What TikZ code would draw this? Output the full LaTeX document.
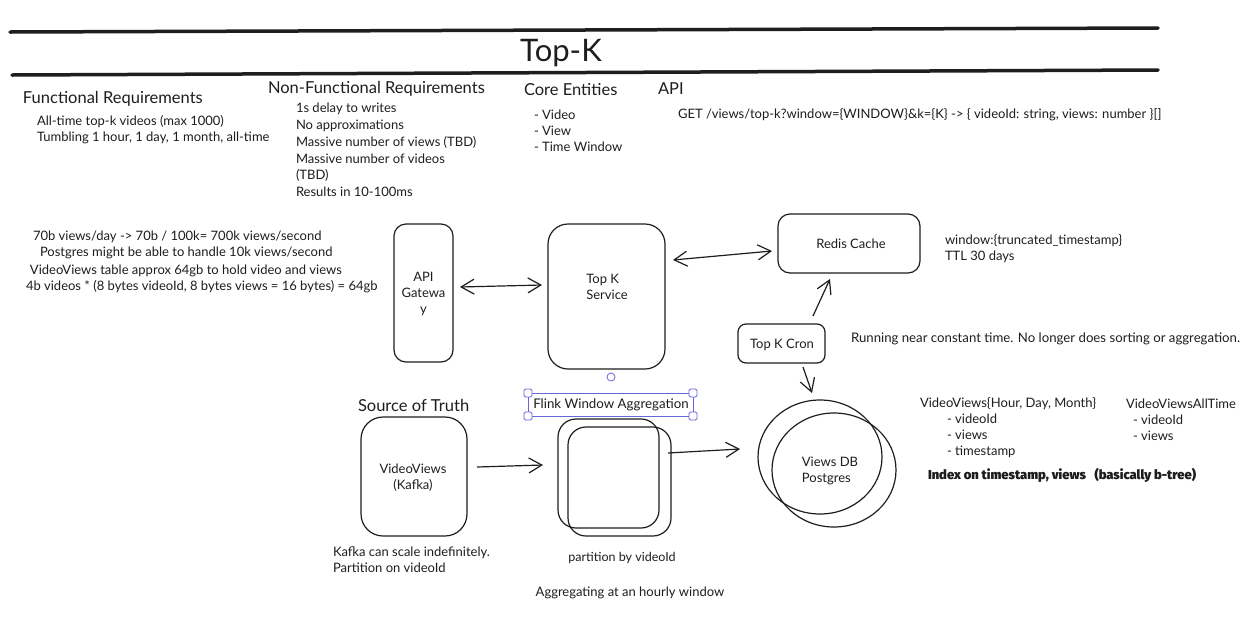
\documentclass[tikz,border=0pt]{standalone}
\usepackage{fontspec}
\setmainfont{Lato}
\newfontfamily\heavyfont{Fira Sans Black}
\usetikzlibrary{arrows.meta,shapes.geometric}
\definecolor{ink}{HTML}{1E1E1E}
\definecolor{sel}{HTML}{6965DB}
\begin{document}
\begin{tikzpicture}[x=1pt,y=-1pt,
  every node/.style={text=ink, inner sep=0pt, outer sep=0pt},
  box/.style={draw=ink, line width=1.2pt, rounded corners=#1},
  box/.default=12pt,
  boxtext/.style={font=\fontsize{13}{16}\selectfont, align=center},
  body/.style={font=\fontsize{13}{16}\selectfont, anchor=west, align=left},
  head/.style={font=\fontsize{16.5}{19}\selectfont, anchor=west},
  tipb/.tip={Straight Barb[length=13pt,width=15pt,line width=1.2pt]},
  arr/.style={draw=ink, line width=1.2pt, -tipb},
  darr/.style={draw=ink, line width=1.2pt, tipb-tipb},
  rulestroke/.style={draw=ink, line width=3.5pt, line cap=round},
  selbox/.style={draw=sel, line width=0.8pt},
  handle/.style={draw=sel, fill=white, line width=0.8pt, rounded corners=1.5pt},
]
\useasboundingbox (0,0) rectangle (1251,622);
\fill[white] (0,0) rectangle (1251,622);

% header rules and title
\coordinate (r1a) at (10,32); \coordinate (r1b) at (1158,28);
\coordinate (r2a) at (12,75); \coordinate (r2b) at (1158,70);
\draw[rulestroke] (r1a) -- (r1b);
\draw[rulestroke] (r2a) -- (r2b);
\node[font=\fontsize{31}{34}\selectfont] (title) at (561,53) {Top-K};

% requirement sections
\node[head] (frH) at (23,99) {Functional Requirements};
\node[body] (frB) at (37,130) {All-time top-k videos (max 1000)\\Tumbling 1 hour, 1 day, 1 month, all-time};
\node[head] (nfrH) at (268,89) {Non-Functional Requirements};
\node[body, font=\fontsize{13}{16.8}\selectfont] (nfrB) at (296,150) {1s delay to writes\\No approximations\\Massive number of views (TBD)\\Massive number of videos\\(TBD)\\Results in 10-100ms};
\node[head] (ceH) at (524,90) {Core Entities};
\node[body] (ceB) at (534,131) {- Video\\- View\\- Time Window};
\node[head] (apiH) at (658,89) {API};
\node[body] (apiB) at (678,115) {GET /views/top-k?window=\{WINDOW\}\&k=\{K\} -> \{ videoId: string, views: number \}[]};

% estimates
\node[body] (e1) at (33,237) {70b views/day -> 70b / 100k= 700k views/second};
\node[body] (e2) at (40,253) {Postgres might be able to handle 10k views/second};
\node[body] (e3) at (30,271) {VideoViews table approx 64gb to hold video and views};
\node[body] (e4) at (26,287) {4b videos * (8 bytes videoId, 8 bytes views = 16 bytes) = 64gb};

% main boxes
\node[box, minimum width=59pt, minimum height=138pt] (api) at (423.5,293) {};
\node[boxtext] (apiT) at (423.5,294) {API\\Gatewa\\y};
\node[box=20pt, minimum width=117pt, minimum height=145pt] (topk) at (606.5,296.5) {};
\node[boxtext, align=left] (topkT) at (607,287) {Top K\\Service};
\node[box, minimum width=142pt, minimum height=59pt] (redis) at (849,243.5) {};
\node[boxtext] (redisT) at (851,243.5) {Redis Cache};
\node[box=8pt, minimum width=87pt, minimum height=39pt] (cron) at (781.5,343.5) {};
\node[boxtext] (cronT) at (782,344.5) {Top K Cron};

\node[body] (w1) at (945,249) {window:\{truncated\_timestamp\}\\TTL 30 days};
\node[body, font=\fontsize{13.2}{16}\selectfont] (run) at (851,339) {Running near constant time. No longer does sorting or aggregation.};

% source of truth / flink
\node[head] (sotH) at (358,405) {Source of Truth};
\node[box=22pt, minimum width=106pt, minimum height=119pt] (kafka) at (414,476.5) {};
\node[boxtext] (kafkaT) at (413,477.5) {VideoViews\\(Kafka)};
\node[body] (kafkaN) at (333,560) {Kafka can scale indefinitely.\\Partition on videoId};

\node[box=18pt, minimum width=101pt, minimum height=109pt] (flinkA) at (608.5,473.5) {};
\node[box=18pt, minimum width=103pt, minimum height=109pt] (flinkB) at (619.5,481.5) {};
\draw[selbox] (528,393) rectangle (693,416);
\foreach \hx/\hy in {528/393,693/393,528/416,693/416}
  \draw[handle] (\hx-4,\hy-4) rectangle (\hx+4,\hy+4);
\draw[selbox] (611,377) circle (4pt);
\node[font=\fontsize{13.3}{16}\selectfont] (flinkT) at (611,405) {Flink Window Aggregation};
\node[font=\fontsize{12.5}{16}\selectfont] (part) at (622,558) {partition by videoId};
\node[font=\fontsize{13}{16}\selectfont] (aggr) at (630,593) {Aggregating at an hourly window};

% database
\node[draw=ink, line width=1.2pt, ellipse, minimum width=124pt, minimum height=114pt] (db1) at (820,457) {};
\node[draw=ink, line width=1.2pt, ellipse, minimum width=124pt, minimum height=114pt] (db2) at (834,470) {};
\node[boxtext, align=left] (dbT) at (830,470.5) {Views DB\\Postgres};

\node[body] (vvH) at (920,404) {VideoViews\{Hour, Day, Month\}};
\node[body] (vvB) at (947,436) {- videoId\\- views\\- timestamp};
\node[body] (atH) at (1126,404) {VideoViewsAllTime};
\node[body] (atB) at (1133,428) {- videoId\\- views};
\node[body, font=\heavyfont\fontsize{13}{15}\selectfont] (idx) at (928,475) {Index on timestamp, views\ \ \ (basically b-tree)};

% connectors
\coordinate (p1) at (460,287); \coordinate (p2) at (542,285);
\coordinate (p3) at (673,260); \coordinate (p4) at (772,251);
\coordinate (p5) at (813,316); \coordinate (p6) at (830,279);
\coordinate (p7) at (803,367); \coordinate (p8) at (812,393);
\coordinate (p9) at (477,467); \coordinate (p10) at (543,465);
\coordinate (p11) at (668,453); \coordinate (p12) at (740,449);
\draw[darr] (p1) -- (p2);
\draw[darr] (p3) -- (p4);
\draw[arr] (p5) -- (p6);
\draw[arr] (p7) -- (p8);
\draw[arr] (p9) -- (p10);
\draw[arr] (p11) -- (p12);
\end{tikzpicture}
\end{document}
